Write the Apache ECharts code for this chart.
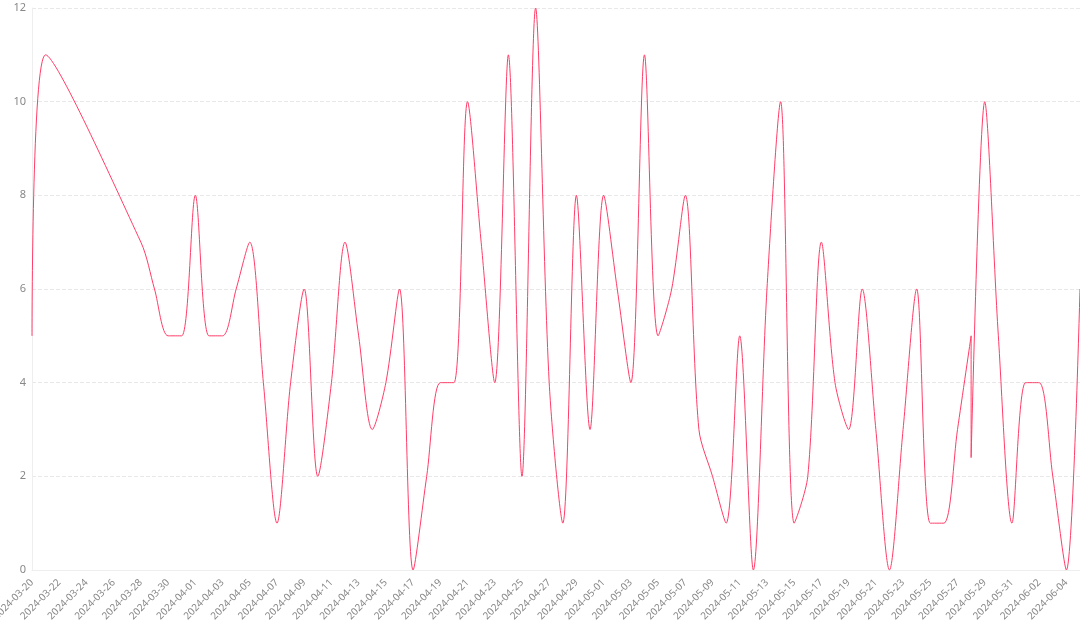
<!DOCTYPE html>
<html>
<head>
<meta charset="utf-8">
<script src="https://cdn.jsdelivr.net/npm/echarts@6/dist/echarts.min.js"></script>
<style>
html,body{margin:0;padding:0;background:#fff;}
#main{width:1080px;height:624px;}
</style>
</head>
<body>
<div id="main"></div>
<script>
// all axis dates (category axis), 2024-03-20 .. 2024-06-05
const startDate = '2024-03-20';
const dayCount = 78;
// observed points [date, value]
const pointDates = [
  '2024-03-20','2024-03-21','2024-03-28','2024-03-29','2024-03-30','2024-03-31',
  '2024-04-01','2024-04-02','2024-04-03','2024-04-04','2024-04-05','2024-04-06',
  '2024-04-07','2024-04-08','2024-04-09','2024-04-10','2024-04-11','2024-04-12',
  '2024-04-13','2024-04-14','2024-04-15','2024-04-16','2024-04-17','2024-04-18',
  '2024-04-19','2024-04-20','2024-04-21','2024-04-22','2024-04-23','2024-04-24',
  '2024-04-25','2024-04-26','2024-04-27','2024-04-28','2024-04-29','2024-04-30',
  '2024-05-01','2024-05-02','2024-05-03','2024-05-04','2024-05-05','2024-05-06',
  '2024-05-07','2024-05-08','2024-05-09','2024-05-10','2024-05-11','2024-05-12',
  '2024-05-13','2024-05-14','2024-05-15','2024-05-16','2024-05-17','2024-05-18',
  '2024-05-19','2024-05-20','2024-05-21','2024-05-22','2024-05-23','2024-05-24',
  '2024-05-25','2024-05-26','2024-05-27','2024-05-28','2024-05-28','2024-05-29',
  '2024-05-30','2024-05-31','2024-06-01','2024-06-02','2024-06-03','2024-06-04',
  '2024-06-05'
];
const pointValues = [
  5, 11, 7, 6, 5, 5,
  8, 5, 5, 6, 7, 4,
  1, 4, 6, 2, 4, 7,
  5, 3, 4, 6, 0, 2,
  4, 4, 10, 7, 4, 11,
  2, 12, 4, 1, 8, 3,
  8, 6, 4, 11, 5, 6,
  8, 3, 2, 1, 5, 0,
  6, 10, 1, 2, 7, 4,
  3, 6, 3, 0, 3, 6,
  1, 1, 3, 5, 2.4, 10,
  5, 1, 4, 4, 2, 0,
  6
];
const yMin = 0, yMax = 12, yInterval = 2;

function pad(n){return n < 10 ? '0' + n : '' + n;}
const categories = [];
{
  const d0 = new Date(startDate + 'T00:00:00Z');
  for (let i = 0; i < dayCount; i++) {
    const d = new Date(d0.getTime() + i * 86400000);
    categories.push(d.getUTCFullYear() + '-' + pad(d.getUTCMonth() + 1) + '-' + pad(d.getUTCDate()));
  }
}
const seriesData = pointDates.map((d, i) => [d, pointValues[i]]);

const chart = echarts.init(document.getElementById('main'), null, {renderer: 'canvas'});
chart.setOption({
  animation: false,
  grid: {left: 32, right: 0, top: 8, bottom: 54, containLabel: false, outerBoundsMode: 'none'},
  xAxis: {
    type: 'category',
    data: categories,
    boundaryGap: false,
    axisLine: {show: true, lineStyle: {color: '#eeeeee'}},
    axisTick: {show: false},
    axisLabel: {interval: 1, rotate: 45, color: '#888', fontSize: 10, fontFamily: 'Noto Sans', margin: 11},
    splitLine: {show: false}
  },
  yAxis: {
    type: 'value',
    min: yMin, max: yMax, interval: yInterval,
    axisLine: {show: true, lineStyle: {color: '#eeeeee'}},
    axisTick: {show: false},
    axisLabel: {color: '#888', fontSize: 11, fontFamily: 'Noto Sans', margin: 6},
    splitLine: {show: true, lineStyle: {color: '#e8e8e8', type: 'dashed'}}
  },
  series: [{
    type: 'line',
    data: seriesData,
    smooth: 0.3,
    showSymbol: false,
    symbol: 'none',
    lineStyle: {color: '#ff3d68', width: 1},
    itemStyle: {color: '#ff3d68'}
  }]
});
</script>
</body>
</html>
